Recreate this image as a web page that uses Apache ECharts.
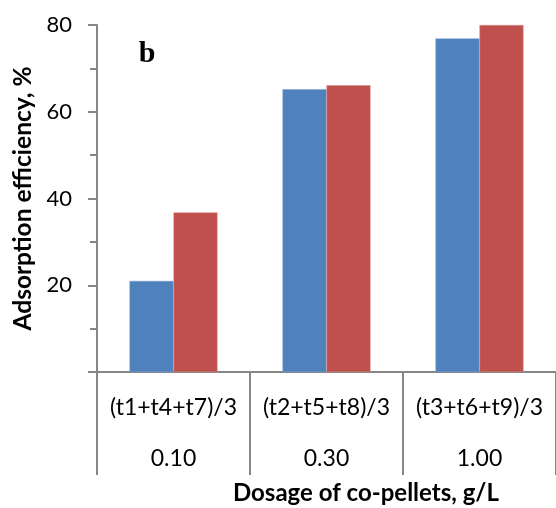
<!DOCTYPE html>
<html lang="en">
<head>
    <meta charset="UTF-8">
    <script type="text/javascript" src="https://cdn.jsdelivr.net/npm/echarts@6/dist/echarts.min.js"></script>
    <style>
        html, body { margin: 0; padding: 0; background: #fff; }
        #adsorptionChart { width: 556px; height: 508px; }
    </style>
</head>
<body>
    <div id="adsorptionChart"></div>
</body>

<script>
    // 分组标签 (上一行)
    var groupLabels = ["(t1+t4+t7)/3", "(t2+t5+t8)/3", "(t3+t6+t9)/3"];
    // 投加量 (下一行)
    var dosageLabels = ["0.10", "0.30", "1.00"];
    // 两组吸附效率
    var seriesBlue = [21.0, 65.2, 76.9];
    var seriesRed = [36.8, 66.1, 80.0];
    // y轴刻度
    var yMin = 0, yMax = 80, yStep = 20;

    var axisGray = "#868686";
    var chart = echarts.init(document.getElementById("adsorptionChart"));

    var categories = [];
    for (var i = 0; i < groupLabels.length; i++) {
        categories.push("{g|" + groupLabels[i] + "}\n{d|" + dosageLabels[i] + "}");
    }

    var option = {
        animation: false,
        grid: { left: 97, right: 0, top: 25, bottom: 136, containLabel: false },
        xAxis: {
            type: "category",
            data: categories,
            axisLine: { lineStyle: { color: axisGray, width: 2 } },
            axisTick: { show: true, interval: 0, length: 103, lineStyle: { color: axisGray, width: 2 } },
            axisLabel: {
                interval: 0,
                margin: 10,
                rich: {
                    g: { color: "#000", fontFamily: "Lato", fontSize: 23, lineHeight: 51 },
                    d: { color: "#000", fontFamily: "Lato", fontSize: 23, lineHeight: 51 }
                }
            }
        },
        yAxis: {
            type: "value",
            min: yMin,
            max: yMax,
            interval: yStep,
            name: "Adsorption efficiency, %",
            nameLocation: "middle",
            nameGap: 60,
            nameTextStyle: { color: "#000", fontFamily: "Lato", fontWeight: "bold", fontSize: 24.5 },
            splitLine: { show: false },
            axisLine: { show: true, lineStyle: { color: axisGray, width: 2 } },
            axisTick: { show: true, length: 9, lineStyle: { color: axisGray, width: 2 } },
            minorTick: { show: true, splitNumber: 2, length: 7, lineStyle: { color: axisGray, width: 2 } },
            axisLabel: {
                margin: 25,
                color: "#000",
                fontFamily: "Lato",
                fontSize: 22,
                formatter: function (v) { return v === 0 ? "" : v; }
            }
        },
        series: [
            {
                type: "bar",
                data: seriesBlue,
                barGap: "0%",
                barCategoryGap: "42.5%",
                itemStyle: { color: "#4F81BD", borderColor: "#7FA3D0", borderWidth: 0.5 }
            },
            {
                type: "bar",
                data: seriesRed,
                itemStyle: { color: "#C0504D", borderColor: "#D98A88", borderWidth: 0.5 }
            }
        ],
        graphic: [
            {
                type: "text",
                x: 147, y: 69,
                style: { text: "b", font: "bold 30px 'Liberation Serif'", fill: "#000", align: "center", verticalAlign: "bottom" }
            },
            {
                type: "text",
                x: 366, y: 493,
                style: { text: "Dosage of co-pellets, g/L", font: "bold 24px Lato", fill: "#000", align: "center", verticalAlign: "middle" }
            }
        ]
    };
    chart.setOption(option);
</script>
</html>
